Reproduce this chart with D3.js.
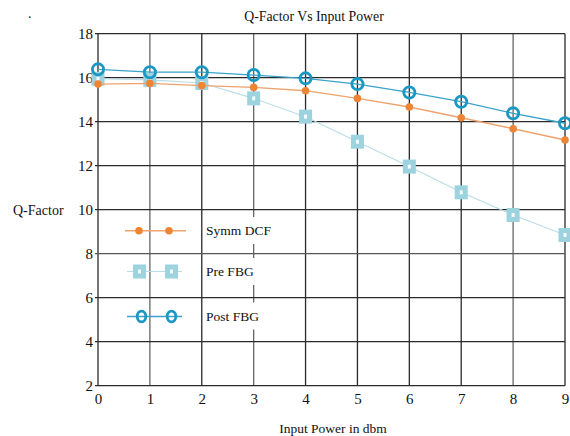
<!DOCTYPE html>
<html><head><meta charset="utf-8">
<script src="https://cdn.jsdelivr.net/npm/d3@7"></script>
<style>body{margin:0;background:#fff}svg{display:block}svg text{font-family:"Liberation Serif","DejaVu Serif",serif !important;fill:#111}</style>
</head><body>
<svg id="c" width="570" height="436" font-family="Liberation Serif"></svg>
<script>
const xValues = [0,1,2,3,4,5,6,7,8,9];
const symmDCF = [15.71,15.74,15.64,15.56,15.41,15.06,14.67,14.18,13.68,13.17];
const preFBG  = [15.95,15.90,15.76,15.06,14.23,13.09,11.96,10.79,9.76,8.85];
const postFBG = [16.38,16.25,16.25,16.12,15.97,15.71,15.33,14.91,14.38,13.93];
const xTicks = [0,1,2,3,4,5,6,7,8,9];
const yTicks = [2,4,6,8,10,12,14,16,18];
const seriesNames = ["Symm DCF","Pre FBG","Post FBG"];

const svg = d3.select("#c");
const x = d3.scaleLinear().domain([0,9]).range([98,565]);
const y = d3.scaleLinear().domain([2,18]).range([385.7,33.7]);
const gridCol = "#2a2a2a";

// grid
const g = svg.append("g");
g.selectAll(".vx").data(xTicks).join("line")
  .attr("x1",d=>x(d)).attr("x2",d=>x(d)).attr("y1",y(18)).attr("y2",y(2))
  .attr("stroke",d=>[1,3,8].includes(d)?"#666":gridCol).attr("stroke-width",1.3);
g.selectAll(".hy").data(yTicks).join("line")
  .attr("x1",x(0)-3).attr("x2",x(9)).attr("y1",d=>y(d)).attr("y2",d=>y(d))
  .attr("stroke",d=>d===8?"#555":gridCol).attr("stroke-width",1.3);

// axes labels via d3 axes (no domain lines)
const ax = svg.append("g").attr("transform",`translate(0,${y(2)})`)
  .call(d3.axisBottom(x).tickValues(xTicks).tickSize(0).tickPadding(8).tickFormat(d3.format("d")));
ax.attr("font-family","Liberation Serif").attr("font-size",15);
ax.select(".domain").remove();
ax.selectAll("text").attr("fill","#111");
const ay = svg.append("g").attr("transform",`translate(${x(0)},0)`)
  .call(d3.axisLeft(y).tickValues(yTicks).tickSize(0).tickPadding(5).tickFormat(d3.format("d")));
ay.attr("font-family","Liberation Serif").attr("font-size",15);
ay.select(".domain").remove();
ay.selectAll("text").attr("fill","#111");

// titles
svg.append("text").attr("x",314).attr("y",21).attr("text-anchor","middle").attr("font-size",13.8).text("Q-Factor Vs Input Power");
svg.append("text").attr("x",333).attr("y",433).attr("text-anchor","middle").attr("font-size",13.5).text("Input Power in dbm");
svg.append("text").attr("x",13).attr("y",215).attr("font-size",14).text("Q-Factor");
svg.append("text").attr("x",28).attr("y",18).attr("font-size",14).text(".");

const pts = arr => xValues.map((v,i)=>[v,arr[i]]);
const line = d3.line().x(d=>x(d[0])).y(d=>y(d[1]));

// legend text backgrounds + text
const legY = [235,276,320.5];
const legend = svg.append("g");
seriesNames.forEach((n,i)=>{
  const t = legend.append("text").attr("x",206).attr("y",legY[i]).attr("font-size",13.5).text(n);
  const bb = t.node().getBBox();
  legend.insert("rect","text").attr("x",bb.x-1).attr("y",bb.y-6).attr("width",bb.width+2).attr("height",bb.height+12).attr("fill","#fff");
});

// Pre FBG
const preCol = "#9dd2df";
svg.append("path").datum(pts(preFBG)).attr("d",line).attr("fill","none").attr("stroke","#b9dde6").attr("stroke-width",1.1);
svg.selectAll(".sq").data(pts(preFBG)).join("rect")
  .attr("x",d=>x(d[0])-4).attr("y",d=>y(d[1])-4.5).attr("width",8).attr("height",9)
  .attr("fill","#f4fbfd").attr("stroke",preCol).attr("stroke-width",5);

// Symm DCF
const dcfCol = "#ee8534";
svg.append("path").datum(pts(symmDCF)).attr("d",line).attr("fill","none").attr("stroke","#efa36c").attr("stroke-width",1.4);
svg.selectAll(".dc").data(pts(symmDCF)).join("circle")
  .attr("cx",d=>x(d[0])).attr("cy",d=>y(d[1])).attr("r",3.8).attr("fill",dcfCol);

// Post FBG
const postCol = "#1a98c4";
svg.append("path").datum(pts(postFBG)).attr("d",line).attr("fill","none").attr("stroke","#3aa3c9").attr("stroke-width",1.3);
svg.selectAll(".pc").data(pts(postFBG)).join("circle")
  .attr("cx",d=>x(d[0])).attr("cy",d=>y(d[1])).attr("r",5.6).attr("fill","none").attr("stroke",postCol).attr("stroke-width",2.8);

// legend symbols
const lg = svg.append("g");
lg.append("line").attr("x1",125).attr("x2",186).attr("y1",230.7).attr("y2",230.7).attr("stroke","#efa36c").attr("stroke-width",1.4);
[139,169].forEach(cx=>lg.append("circle").attr("cx",cx).attr("cy",230.7).attr("r",3.8).attr("fill",dcfCol));
lg.append("line").attr("x1",127).attr("x2",182).attr("y1",271.5).attr("y2",271.5).attr("stroke","#b9dde6").attr("stroke-width",1.1);
[139.5,171.5].forEach(cx=>lg.append("rect").attr("x",cx-4).attr("y",271.5-4.5).attr("width",8).attr("height",9).attr("fill","#f4fbfd").attr("stroke",preCol).attr("stroke-width",5));
lg.append("line").attr("x1",127).attr("x2",182).attr("y1",316.5).attr("y2",316.5).attr("stroke","#3aa3c9").attr("stroke-width",1.3);
[141.5,171.5].forEach(cx=>lg.append("ellipse").attr("cx",cx).attr("cy",316.5).attr("rx",4.3).attr("ry",5.3).attr("fill","none").attr("stroke",postCol).attr("stroke-width",2.8));
</script>
</body></html>
